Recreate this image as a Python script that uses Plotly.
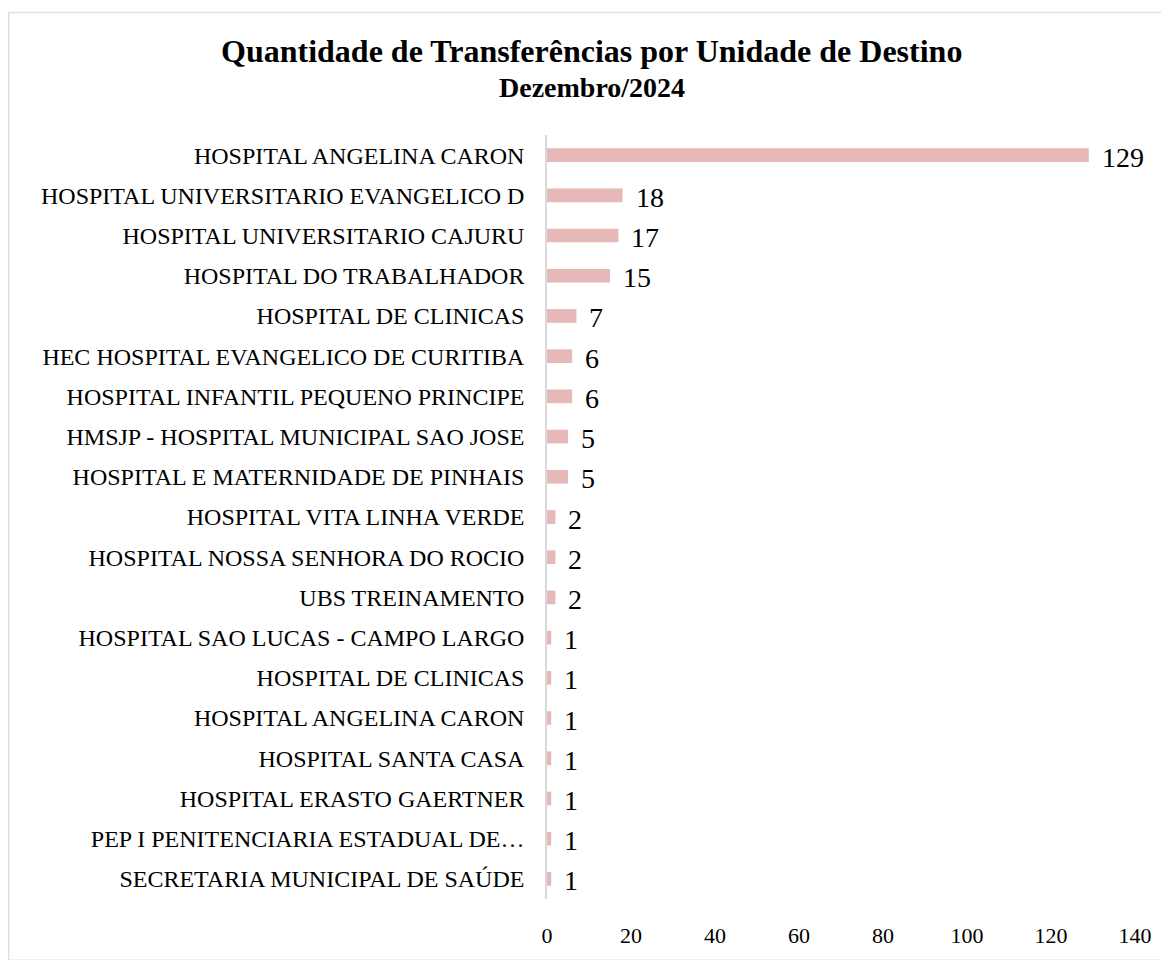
import plotly.graph_objects as go

categories = [
    "HOSPITAL ANGELINA CARON",
    "HOSPITAL UNIVERSITARIO EVANGELICO D",
    "HOSPITAL UNIVERSITARIO CAJURU",
    "HOSPITAL DO TRABALHADOR",
    "HOSPITAL DE CLINICAS",
    "HEC HOSPITAL EVANGELICO DE CURITIBA",
    "HOSPITAL INFANTIL PEQUENO PRINCIPE",
    "HMSJP - HOSPITAL MUNICIPAL SAO JOSE",
    "HOSPITAL E MATERNIDADE DE PINHAIS",
    "HOSPITAL VITA LINHA VERDE",
    "HOSPITAL NOSSA SENHORA DO ROCIO",
    "UBS TREINAMENTO",
    "HOSPITAL SAO LUCAS - CAMPO LARGO",
    "HOSPITAL DE CLINICAS",
    "HOSPITAL ANGELINA CARON",
    "HOSPITAL SANTA CASA",
    "HOSPITAL ERASTO GAERTNER",
    "PEP I PENITENCIARIA ESTADUAL DE…",
    "SECRETARIA MUNICIPAL DE SAÚDE",
]
values = [129, 18, 17, 15, 7, 6, 6, 5, 5, 2, 2, 2, 1, 1, 1, 1, 1, 1, 1]
x_ticks = [0, 20, 40, 60, 80, 100, 120, 140]
title_text = "Quantidade de Transferências por Unidade de Destino"
subtitle_text = "Dezembro/2024"

positions = list(range(len(categories)))

# page body has an 8px default margin; figure sized to fit the window
W, H = 1161, 952
ML, MR, MT, MB = 539, 34, 127, 52
pw, ph = W - ML - MR, H - MT - MB
FONT = "Liberation Serif, Times New Roman, serif"

fig = go.Figure()
fig.add_trace(go.Bar(
    x=values, y=positions, orientation="h",
    marker=dict(color="#E6B8B7", line=dict(width=0)),
    width=0.34, hoverinfo="x",
))

for p, v in zip(positions, values):
    fig.add_annotation(x=v, y=p, text=str(v), showarrow=False,
                       xanchor="left", xshift=11, yshift=-2,
                       font=dict(family=FONT, size=28, color="#000000"))

fig.add_annotation(xref="paper", yref="paper", x=(583 - ML) / pw, y=1 + (MT - 42) / ph,
                   text="<b>" + title_text + "</b>", showarrow=False,
                   xanchor="center", yanchor="middle",
                   font=dict(family=FONT, size=32, color="#000000"))
fig.add_annotation(xref="paper", yref="paper", x=(584 - ML) / pw, y=1 + (MT - 79) / ph,
                   text="<b>" + subtitle_text + "</b>", showarrow=False,
                   xanchor="center", yanchor="middle",
                   font=dict(family=FONT, size=28, color="#000000"))

fig.update_layout(
    width=W, height=H,
    margin=dict(l=ML, r=MR, t=MT, b=MB),
    paper_bgcolor="white", plot_bgcolor="white",
    showlegend=False,
    font=dict(family=FONT, color="#000000"),
)

fig.update_yaxes(
    range=[len(categories) - 0.5, -0.5],
    tickmode="array", tickvals=positions, ticktext=categories,
    tickfont=dict(family=FONT, size=24, color="#000000"),
    ticks="outside", ticklen=16, tickcolor="rgba(0,0,0,0)",
    showline=True, linecolor="#D9D9D9", linewidth=1.5,
    showgrid=False, zeroline=False,
)
fig.update_xaxes(
    range=[0, 140], tickmode="array", tickvals=x_ticks,
    tickfont=dict(family=FONT, size=22, color="#000000"),
    ticks="outside", ticklen=17, tickcolor="rgba(0,0,0,0)",
    showline=False, showgrid=False, zeroline=False,
)

fig.add_shape(type="rect", xref="paper", yref="paper",
              x0=(0.75 - ML) / pw, x1=(W + 10 - ML) / pw,
              y0=-(MB + 10) / ph, y1=1 + (MT - 3) / ph,
              line=dict(color="#D9E2EE", width=1.5), fillcolor="rgba(0,0,0,0)",
              layer="below")

fig.write_html("out.html")
